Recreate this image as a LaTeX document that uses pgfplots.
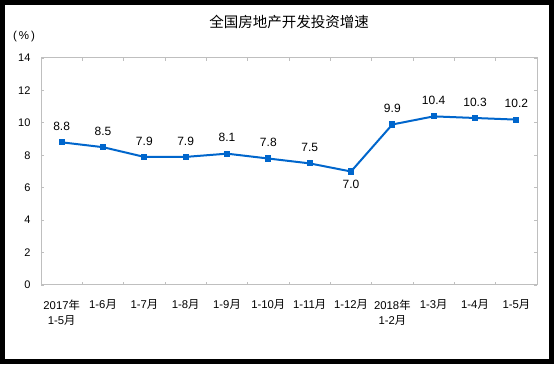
\documentclass[border=0pt]{standalone}
\usepackage{pgfplots}
\pgfplotsset{compat=1.18}
\usepackage{pgfplotstable}
\usepackage{fontspec}
\setmainfont{Liberation Sans}
\newfontfamily\cjk{Noto Sans CJK SC}
\definecolor{lineblue}{HTML}{0066CC}
\definecolor{axgray}{HTML}{BFBFBF}
\newcommand{\yue}{{\cjk 月}}
\newcommand{\nian}{{\cjk 年}}
\pgfplotstableread{
x y sh
0 8.8 16
1 8.5 16
2 7.9 16
3 7.9 16
4 8.1 16
5 7.8 16
6 7.5 16
7 7.0 -13
8 9.9 16
9 10.4 16
10 10.3 16
11 10.2 16
}\datatable
\begin{document}
\begin{tikzpicture}[x=1pt,y=1pt]
\fill[black] (0,0) rectangle (554,364);
\fill[white] (5,5) rectangle (549,359);
\node[font=\cjk\fontsize{14.5}{16}\selectfont] at (289,342) {全国房地产开发投资增速};
\node[font=\fontsize{11.5}{12}\selectfont] at (24,327) {(\,\%\,)};
\begin{axis}[
 at={(41pt,79pt)}, anchor=south west,
 scale only axis, width=496pt, height=227pt,
 xmin=-0.5, xmax=11.5, ymin=0, ymax=14,
 ytick={0,2,...,14},
 xtick={0,...,11},
 xticklabels={{2017\nian\\1-5\yue},{1-6\yue},{1-7\yue},{1-8\yue},{1-9\yue},{1-10\yue},{1-11\yue},{1-12\yue},{2018\nian\\1-2\yue},{1-3\yue},{1-4\yue},{1-5\yue}},
 minor xtick={0.5,1.5,...,10.5},
 tick align=inside,
 major x tick style={draw=none},
 minor tick length=3pt, major tick length=3pt,
 tick style={axgray, line width=0.8pt},
 axis line style={axgray, line width=1pt},
 /pgf/number format/assume math mode=true,
 yticklabel style={font=\fontsize{11}{12}\selectfont, xshift=-7pt},
 xticklabel style={font=\fontsize{11.3}{15}\selectfont, align=center, yshift=-11pt},
 clip=false,
]
\addplot[color=lineblue, line width=2pt, mark=square*, mark size=2.6pt,
  mark options={solid, fill=lineblue, line width=0pt},
  nodes near coords={\pgfmathprintnumber[fixed,fixed zerofill,precision=1]{\pgfplotspointmeta}},
  point meta=explicit,
  visualization depends on={\thisrow{sh} \as \sh},
  every node near coord/.append style={anchor=center, inner sep=0pt, yshift=\sh pt, font=\fontsize{12}{14}\selectfont, text=black}]
  table[x=x, y=y, meta=y] {\datatable};
\end{axis}
\end{tikzpicture}
\end{document}
